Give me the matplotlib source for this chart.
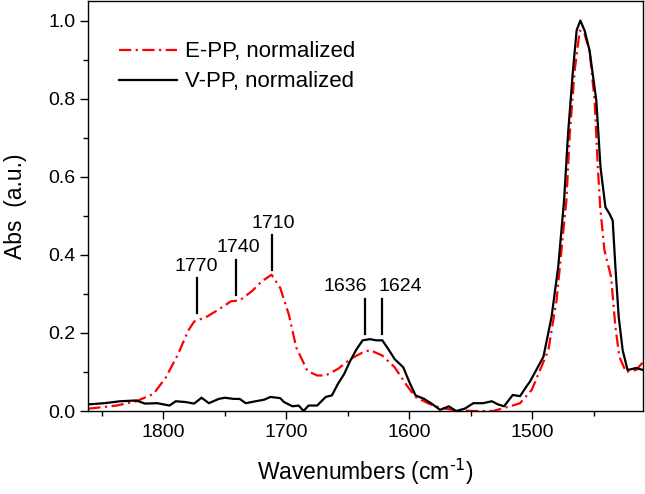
import numpy as np
import matplotlib.pyplot as plt
from matplotlib.ticker import MultipleLocator, FormatStrFormatter

plt.rcParams["font.family"] = ["Liberation Sans", "DejaVu Sans"]

# V-PP (black, solid) spectrum
vpp_wn = [1861, 1848, 1835, 1822, 1815, 1805, 1795, 1790, 1782, 1775, 1769, 1763,
          1755, 1750, 1743, 1738, 1733, 1725, 1718, 1713, 1705, 1702, 1695, 1690,
          1686, 1682, 1675, 1668, 1663, 1658, 1653, 1648, 1643, 1638, 1632, 1627,
          1622, 1617, 1612, 1605, 1600, 1595, 1588, 1582, 1575, 1568, 1562, 1555,
          1548, 1540, 1533, 1528, 1523, 1516, 1510, 1505, 1502, 1491, 1484.4, 1479,
          1474.2, 1471, 1467, 1464, 1461, 1457.5, 1453.5, 1448, 1444.6, 1440.6, 1437.3, 1434.7,
          1432.5, 1429.8, 1426.6, 1422.6, 1415.8, 1410]
vpp_abs = [0.017, 0.020, 0.025, 0.027, 0.019, 0.020, 0.014, 0.025, 0.023, 0.019, 0.034, 0.020,
           0.031, 0.034, 0.031, 0.031, 0.020, 0.025, 0.029, 0.036, 0.033, 0.023, 0.012, 0.014,
           0.000, 0.014, 0.014, 0.036, 0.040, 0.070, 0.095, 0.129, 0.158, 0.181, 0.184, 0.181,
           0.181, 0.158, 0.133, 0.112, 0.074, 0.040, 0.031, 0.019, 0.003, 0.012, 0.000, 0.006,
           0.020, 0.020, 0.025, 0.017, 0.012, 0.041, 0.038, 0.062, 0.075, 0.139, 0.241, 0.369,
           0.540, 0.710, 0.872, 0.975, 1.000, 0.974, 0.923, 0.795, 0.624, 0.522, 0.505, 0.488,
           0.369, 0.241, 0.156, 0.105, 0.110, 0.105]

# E-PP (red, dash-dot) spectrum
epp_wn = [1861, 1838, 1822, 1808, 1798, 1788, 1780, 1775, 1765, 1755, 1745, 1738,
          1728, 1720, 1712, 1705, 1698, 1692, 1683, 1675, 1668, 1658, 1648, 1638,
          1632, 1622, 1612, 1602, 1595, 1585, 1575, 1562, 1548, 1532, 1518, 1510,
          1500.5, 1487, 1480.3, 1475, 1472.3, 1469.6, 1465.6, 1461.5, 1458, 1453.5, 1449.4, 1446.8,
          1444.8, 1441.4, 1436, 1432.5, 1429.3, 1423.9, 1415.8, 1410]
epp_abs = [0.006, 0.014, 0.025, 0.044, 0.086, 0.146, 0.205, 0.229, 0.241, 0.260, 0.281, 0.283,
           0.307, 0.332, 0.349, 0.315, 0.247, 0.163, 0.103, 0.091, 0.091, 0.108, 0.133, 0.150,
           0.156, 0.142, 0.112, 0.065, 0.036, 0.020, 0.008, 0.002, 0.000, 0.000, 0.012, 0.020,
           0.054, 0.156, 0.284, 0.455, 0.540, 0.710, 0.872, 0.974, 0.970, 0.923, 0.795, 0.624,
           0.520, 0.412, 0.343, 0.216, 0.139, 0.100, 0.105, 0.125]

# peak markers: line position, bottom/top of marker line, label position
peak_wn = [1773, 1741, 1712, 1636, 1622]
peak_lo = [0.252, 0.298, 0.362, 0.197, 0.197]
peak_hi = [0.341, 0.387, 0.451, 0.286, 0.286]
label_wn = [1773, 1739, 1711, 1652, 1607]
label_y = [0.370, 0.420, 0.480, 0.320, 0.320]
peak_labels = ["1770", "1740", "1710", "1636", "1624"]

fig = plt.figure(figsize=(6.45, 4.94), dpi=100)
ax = fig.add_axes([0.137, 0.168, 0.86, 0.83])

ax.plot(epp_wn, epp_abs, color="#ff0000", lw=1.6, dashes=(5.5, 2, 1, 2),
        label="E-PP, normalized")
ax.plot(vpp_wn, vpp_abs, color="black", lw=1.6, label="V-PP, normalized")

for wn, lo, hi, lx, ly, txt in zip(peak_wn, peak_lo, peak_hi, label_wn, label_y, peak_labels):
    ax.plot([wn, wn], [lo, hi], color="black", lw=1.6)
    ax.text(lx, ly, txt, ha="center", va="center", fontsize=14)

ax.set_xlim(1861, 1410)
ax.set_ylim(0, 1.05)
ax.xaxis.set_major_locator(MultipleLocator(100))
ax.xaxis.set_minor_locator(MultipleLocator(50))
ax.yaxis.set_major_locator(MultipleLocator(0.2))
ax.yaxis.set_minor_locator(MultipleLocator(0.1))
ax.yaxis.set_major_formatter(FormatStrFormatter("%.1f"))
ax.tick_params(which="both", direction="out", labelsize=14, width=1.0)
ax.tick_params(which="major", length=6)
ax.tick_params(which="minor", length=3.5)
for s in ax.spines.values():
    s.set_linewidth(1.0)

ax.set_xlabel("Wavenumbers (cm$^{\\text{-1}}$)", fontsize=16.5, labelpad=11)
ax.set_ylabel("Abs  (a.u.)", fontsize=16.5, labelpad=15)

ax.legend(loc="upper left", frameon=False, fontsize=16, handlelength=2.6,
          handletextpad=0.35, bbox_to_anchor=(0.02, 0.95), labelspacing=0.4)

fig.savefig("out.png", dpi=100)
